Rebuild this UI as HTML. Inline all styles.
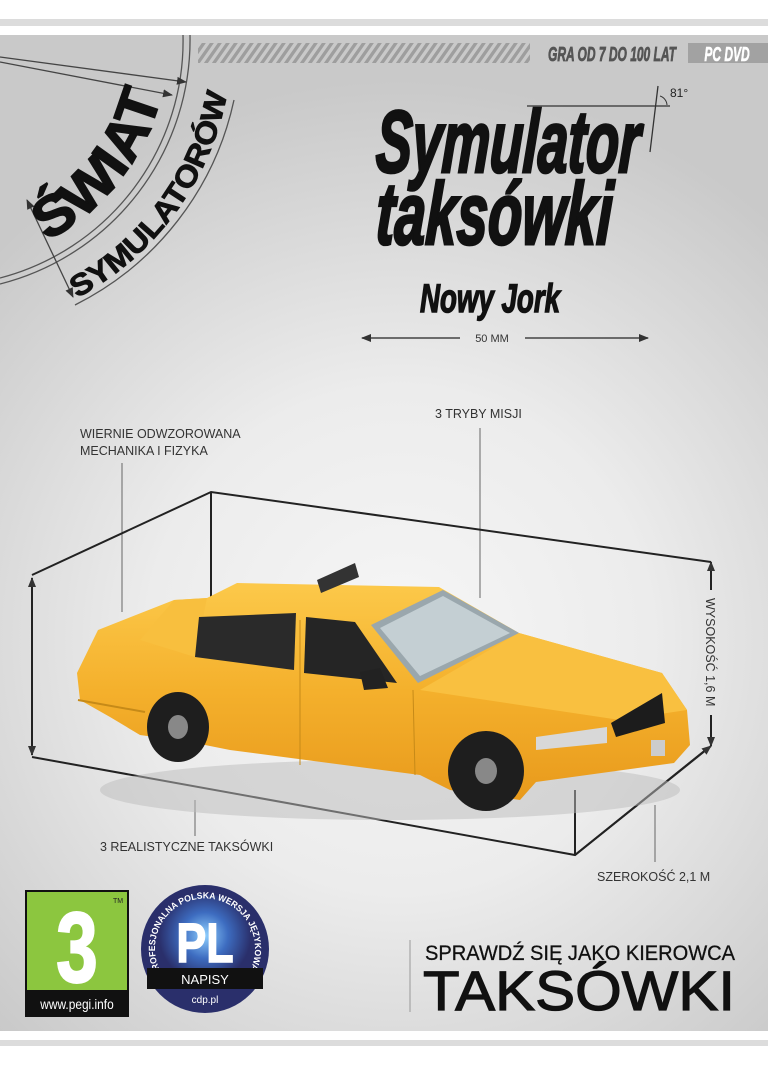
<!DOCTYPE html>
<html><head><meta charset="utf-8"><style>
html,body{margin:0;padding:0;background:#fff}
body{width:768px;height:1066px;overflow:hidden;position:relative;font-family:"Liberation Sans",sans-serif}
</style></head><body>
<svg width="768" height="1066" viewBox="0 0 768 1066" xmlns="http://www.w3.org/2000/svg" style="position:absolute;left:0;top:0">
<defs>
<radialGradient id="bg" cx="400" cy="640" r="560" gradientUnits="userSpaceOnUse">
<stop offset="0" stop-color="#f6f6f6"/><stop offset="0.45" stop-color="#ececec"/><stop offset="1" stop-color="#c9c9c9"/>
</radialGradient>
<linearGradient id="yel" x1="0" y1="0" x2="0" y2="1">
<stop offset="0" stop-color="#fcc94a"/><stop offset="0.5" stop-color="#f4b02c"/><stop offset="1" stop-color="#e89a1c"/>
</linearGradient>
<radialGradient id="glow" cx="0.5" cy="0.45" r="0.5">
<stop offset="0" stop-color="#8fd0ff"/><stop offset="0.5" stop-color="#3d6cc0"/><stop offset="1" stop-color="#2a2f6b"/>
</radialGradient>
<pattern id="stripes" width="8" height="22" patternUnits="userSpaceOnUse" patternTransform="skewX(-35)">
<rect width="8" height="22" fill="#c9c9c9"/><rect width="4" height="22" fill="#9e9e9e"/>
</pattern>
<marker id="ar" markerWidth="10" markerHeight="10" refX="9" refY="5" orient="auto" markerUnits="userSpaceOnUse">
<path d="M0,1 L10,5 L0,9 z" fill="#333"/></marker>
<marker id="ar2" markerWidth="10" markerHeight="10" refX="1" refY="5" orient="auto" markerUnits="userSpaceOnUse">
<path d="M10,1 L0,5 L10,9 z" fill="#333"/></marker>
<path id="p1" d="M77,298 A292,292 0 0 0 231,65"/>
<path id="p2" d="M47,241 A228,228 0 0 0 166,72"/>
<path id="p3" d="M162,974 A50,50 0 1 1 248,974"/>
</defs>
<rect x="0" y="19" width="768" height="7" fill="#dcdcdc"/>
<rect x="0" y="35" width="768" height="996" fill="url(#bg)"/>
<rect x="0" y="1040" width="768" height="6" fill="#dcdcdc"/>

<!-- top bar -->
<rect x="198" y="43" width="332" height="20" fill="url(#stripes)"/>
<text x="612" y="61" font-size="20" font-weight="bold" font-style="italic" fill="#555" stroke="#555" stroke-width="0.8" text-anchor="middle" transform="translate(612,0) scale(0.6,1) translate(-612,0)">GRA OD 7 DO 100 LAT</text>
<rect x="688" y="43" width="80" height="20" fill="#a2a2a2"/>
<text x="727" y="61" font-size="20" font-weight="bold" font-style="italic" fill="#fff" stroke="#fff" stroke-width="0.6" text-anchor="middle" transform="translate(727,0) scale(0.6,1) translate(-727,0)">PC DVD</text>

<!-- swiat logo -->
<g fill="none" stroke="#555" stroke-width="1.3">
<path d="M183,35 A245,245 0 0 1 0,278"/>
<path d="M190,35 A252,252 0 0 1 0,284"/>
<path d="M234,100 A300,300 0 0 1 75,305"/>
</g>
<line x1="0" y1="57" x2="186" y2="82" stroke="#444" stroke-width="1.3" marker-end="url(#ar)"/>
<line x1="0" y1="62" x2="172" y2="95" stroke="#444" stroke-width="1.3" marker-end="url(#ar)"/>
<line x1="27" y1="200" x2="73" y2="297" stroke="#444" stroke-width="1.3" marker-start="url(#ar2)" marker-end="url(#ar)"/>
<text font-size="56" font-weight="bold" fill="#111" stroke="#111" stroke-width="1.5"><textPath href="#p2" textLength="190" lengthAdjust="spacingAndGlyphs">ŚWIAT</textPath></text>
<text font-size="30" font-weight="bold" fill="#111" stroke="#111" stroke-width="0.8"><textPath href="#p1" textLength="262" lengthAdjust="spacingAndGlyphs">SYMULATORÓW</textPath></text>

<!-- title -->
<g fill="#111" stroke="#111" stroke-width="3" font-weight="bold" font-style="italic">
<text x="375" y="172" font-size="88" transform="translate(375,172) scale(0.66,1) skewX(-4) translate(-375,-172)" textLength="400" lengthAdjust="spacingAndGlyphs">Symulator</text>
<text x="375" y="244" font-size="88" transform="translate(375,244) scale(0.66,1) skewX(-4) translate(-375,-244)" textLength="358" lengthAdjust="spacingAndGlyphs">taksówki</text>
<text x="420" y="312" font-size="40" stroke-width="1.5" transform="translate(420,312) scale(0.7,1) translate(-420,-312)" textLength="200" lengthAdjust="spacingAndGlyphs">Nowy Jork</text>
</g>
<line x1="527" y1="106" x2="670" y2="106" stroke="#333" stroke-width="1.3"/>
<line x1="650" y1="152" x2="658" y2="86" stroke="#333" stroke-width="1.3"/>
<path d="M660,96 A10,10 0 0 1 667,105" fill="none" stroke="#333"/>
<text x="670" y="97" font-size="12" fill="#222">81°</text>
<line x1="460" y1="338" x2="362" y2="338" stroke="#444" stroke-width="1.5" marker-end="url(#ar)"/>
<line x1="525" y1="338" x2="648" y2="338" stroke="#444" stroke-width="1.5" marker-end="url(#ar)"/>
<text x="492" y="342" font-size="11" fill="#333" text-anchor="middle">50 MM</text>

<!-- labels -->
<g font-size="12.5" fill="#333">
<text x="80" y="438">WIERNIE ODWZOROWANA</text>
<text x="80" y="455">MECHANIKA I FIZYKA</text>
<text x="435" y="418">3 TRYBY MISJI</text>
<text x="100" y="851">3 REALISTYCZNE TAKSÓWKI</text>
<text x="597" y="881">SZEROKOŚĆ 2,1 M</text>
<text x="0" y="0" transform="translate(706,598) rotate(90)">WYSOKOŚĆ 1,6 M</text>
</g>
<g stroke="#666" stroke-width="1">
<line x1="122" y1="463" x2="122" y2="612"/>
<line x1="480" y1="428" x2="480" y2="598"/>
<line x1="195" y1="800" x2="195" y2="836"/>
<line x1="655" y1="805" x2="655" y2="862"/>
</g>

<!-- box -->
<g stroke="#222" stroke-width="2" fill="none">
<polyline points="32,575 211,492 711,562"/>
<line x1="211" y1="492" x2="211" y2="610"/>
<polyline points="32,757 575,855 708,748"/>
<line x1="575" y1="790" x2="575" y2="855"/>
</g>
<line x1="32" y1="666" x2="32" y2="578" stroke="#222" stroke-width="2" marker-end="url(#ar)"/>
<line x1="32" y1="666" x2="32" y2="755" stroke="#222" stroke-width="2" marker-end="url(#ar)"/>
<line x1="711" y1="590" x2="711" y2="562" stroke="#222" stroke-width="2" marker-end="url(#ar)"/>
<line x1="711" y1="715" x2="711" y2="746" stroke="#222" stroke-width="2" marker-end="url(#ar)"/>
<line x1="575" y1="855" x2="711" y2="746" stroke="#222" stroke-width="2" marker-end="url(#ar)"/>

<!-- car -->
<ellipse cx="390" cy="790" rx="290" ry="30" fill="#bbb" opacity="0.5"/>
<path d="M77,673 L98,630 L174,600 L207,598 L237,583 L439,587 L519,633 L662,673 L687,710 L690,745 L674,763 L536,782 L520,800 L450,790 L420,775 L230,750 L190,742 L140,735 L110,717 L80,700 Z" fill="url(#yel)"/>
<path d="M174,600 L207,598 L195,657 L140,640 Z" fill="#f8bf3e"/>
<path d="M519,633 L662,673 L687,710 L620,720 L420,690 Z" fill="#f9c040"/>
<polygon points="199,617 296,613 294,670 195,657" fill="#2a2a2a"/>
<polygon points="306,617 355,622 397,683 304,673" fill="#252525"/>
<polygon points="371,625 443,590 519,633 418,683" fill="#9aa7ad"/>
<polygon points="380,628 443,596 510,633 420,676" fill="#c4cfd3"/>
<polygon points="611,723 662,693 665,723 616,737" fill="#1c1c1c"/>
<polygon points="536,737 607,727 607,743 536,750" fill="#d8d8d8"/>
<polygon points="317,580 355,563 359,577 321,593" fill="#333"/>
<path d="M360,672 L380,668 L388,688 L364,690 Z" fill="#222"/>
<line x1="78" y1="700" x2="145" y2="712" stroke="#c68a18" stroke-width="2"/>
<line x1="300" y1="620" x2="300" y2="765" stroke="#c68a18" stroke-width="1"/>
<line x1="413" y1="690" x2="415" y2="775" stroke="#c68a18" stroke-width="1"/>
<rect x="651" y="740" width="14" height="16" fill="#ccc"/>
<ellipse cx="178" cy="727" rx="31" ry="35" fill="#1e1e1e"/>
<ellipse cx="178" cy="727" rx="10" ry="12" fill="#888"/>
<ellipse cx="486" cy="771" rx="38" ry="40" fill="#1e1e1e"/>
<ellipse cx="486" cy="771" rx="11" ry="13" fill="#888"/>

<!-- bottom -->
<rect x="25" y="890" width="104" height="127" fill="#111"/>
<rect x="27" y="892" width="100" height="98" fill="#8cc63f"/>
<text x="77" y="982" font-size="100" font-weight="bold" fill="#fff" stroke="#fff" stroke-width="2" text-anchor="middle" transform="translate(77,0) scale(0.75,1) translate(-77,0)">3</text>
<text x="113" y="903" font-size="7" fill="#222">TM</text>
<text x="77" y="1009" font-size="14" fill="#fff" text-anchor="middle" transform="translate(77,0) scale(0.85,1) translate(-77,0)">www.pegi.info</text>
<circle cx="205" cy="949" r="64" fill="#2a2f6b"/>
<circle cx="205" cy="940" r="46" fill="url(#glow)"/>
<text font-size="9" font-weight="bold" fill="#fff"><textPath href="#p3" textLength="205" lengthAdjust="spacingAndGlyphs">PROFESJONALNA POLSKA WERSJA JĘZYKOWA</textPath></text>
<text x="205" y="962" font-size="56" font-weight="bold" fill="#fff" stroke="#fff" stroke-width="1.5" text-anchor="middle" transform="translate(205,0) scale(0.8,1) translate(-205,0)">PL</text>
<rect x="147" y="968" width="116" height="21" fill="#111"/>
<text x="205" y="984" font-size="13" fill="#fff" text-anchor="middle">NAPISY</text>
<text x="205" y="1003" font-size="10" fill="#fff" text-anchor="middle">cdp.pl</text>
<line x1="410" y1="940" x2="410" y2="1012" stroke="#999" stroke-width="1"/>
<text x="425" y="960" font-size="21" fill="#111" stroke="#111" stroke-width="0.3" textLength="310" lengthAdjust="spacingAndGlyphs">SPRAWDŹ SIĘ JAKO KIEROWCA</text>
<text x="423" y="1010" font-size="56" fill="#111" stroke="#111" stroke-width="1.2" textLength="312" lengthAdjust="spacingAndGlyphs">TAKSÓWKI</text>
</svg>
</body></html>
